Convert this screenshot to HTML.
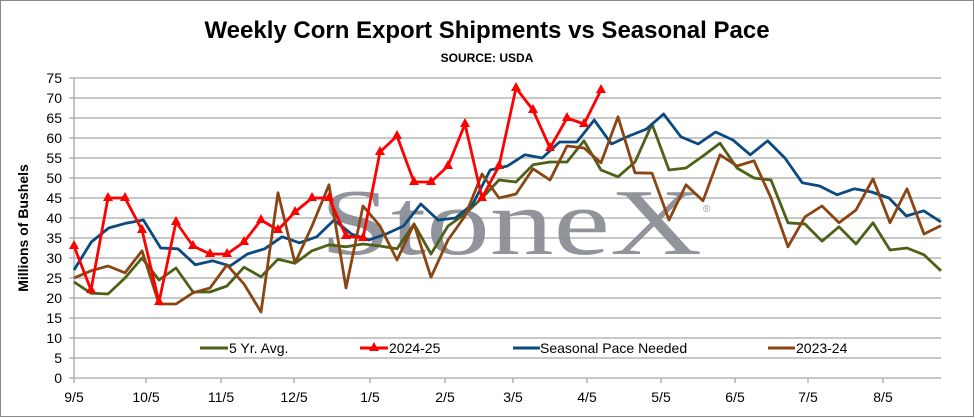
<!DOCTYPE html>
<html><head><meta charset="utf-8"><style>
body{margin:0;background:#fff}
svg{display:block;font-family:"Liberation Sans",sans-serif}
</style></head><body>
<svg width="975" height="418" viewBox="0 0 975 418" xmlns="http://www.w3.org/2000/svg">
<rect x="0.5" y="0.5" width="973" height="416" fill="#fff" stroke="#888"/>
<text x="487" y="38" text-anchor="middle" font-size="24" font-weight="bold">Weekly Corn Export Shipments vs Seasonal Pace</text>
<text x="487" y="62" text-anchor="middle" font-size="12" font-weight="bold">SOURCE: USDA</text>
<g id="grid" stroke="#a6a6a6" stroke-width="1.3"></g>
<text x="320" y="254" font-family="Liberation Serif,serif" font-size="94" fill="#868a91" opacity="0.9" textLength="382" lengthAdjust="spacingAndGlyphs">StoneX</text>
<text x="703" y="212" font-size="10" fill="#999">®</text>
<g id="axis" font-size="14" fill="#000"></g>
<text transform="translate(28,228) rotate(-90)" text-anchor="middle" font-size="14" font-weight="bold">Millions of Bushels</text>
<g id="series" fill="none" stroke-width="2.8" stroke-linejoin="round"></g>
<g font-size="14">
<line x1="200" y1="348" x2="228" y2="348" stroke="#4d6118" stroke-width="3"/><text x="229" y="353">5 Yr. Avg.</text>
<line x1="360" y1="348" x2="388" y2="348" stroke="#ff0000" stroke-width="3"/><polygon points="374,342 379,351 369,351" fill="#ff0000"/><text x="389" y="353">2024-25</text>
<line x1="513" y1="348" x2="540" y2="348" stroke="#0a4a80" stroke-width="3"/><text x="540" y="353">Seasonal Pace Needed</text>
<line x1="768" y1="348" x2="795" y2="348" stroke="#8b4513" stroke-width="3"/><text x="796" y="353">2023-24</text>
</g>
</svg>
<script>
const ns="http://www.w3.org/2000/svg";
const Y=v=>378-4*v, X=i=>74+i*17;
const g=document.getElementById('grid'),a=document.getElementById('axis'),s=document.getElementById('series');
function el(p,t,at){const e=document.createElementNS(ns,t);for(const k in at)e.setAttribute(k,at[k]);p.appendChild(e);return e;}
for(let v=5;v<=75;v+=5){el(g,'line',{x1:74,x2:941,y1:Y(v),y2:Y(v)});}
el(g,'line',{x1:74,x2:941,y1:378,y2:378});
el(g,'line',{x1:74,x2:74,y1:78,y2:378});
for(let v=0;v<=75;v+=5){el(g,'line',{x1:69,x2:74,y1:Y(v),y2:Y(v)});const t=el(a,'text',{x:62,y:Y(v)+5,'text-anchor':'end'});t.textContent=v;}
const lab=['9/5','10/5','11/5','12/5','1/5','2/5','3/5','4/5','5/5','6/5','7/5','8/5'];
const lx=[74,146,221,294,370,445,513,587,661,735,808,883];
lab.forEach((l,i)=>{el(g,'line',{x1:lx[i],x2:lx[i],y1:378,y2:383});const t=el(a,'text',{x:lx[i],y:402,'text-anchor':'middle'});t.textContent=l;});
const green=[24,21.2,21,25,30,24.5,27.5,21.5,21.5,23,27.7,25.3,29.7,28.7,31.8,33.3,32.8,33.5,33,32.3,38.5,31,38,41,45,49.5,49,53.3,54,54,59.3,52,50.3,54,63.5,52,52.5,55.5,58.7,52.5,50,49.5,38.8,38.5,34.2,37.8,33.5,38.8,32,32.5,30.8,26.8];
const blue=[27,34,37.5,38.7,39.5,32.5,32.3,28.3,29.3,28,31,32.3,35.3,33.8,35.3,39.5,36,34.5,36,38,43.5,39.5,40,43.5,52,53,55.8,55,59,59,64.5,58.5,60.5,62.2,66,60.3,58.5,61.5,59.5,55.8,59.3,55,48.8,48,45.8,47.3,46.5,45,40.5,41.8,39];
const brown=[25,26.8,28,26.3,31.8,18.5,18.5,21.3,22.5,28.3,23.5,16.5,46.3,28.7,38,48.3,22.5,43,38,29.5,38.5,25.2,34.5,40.5,51,45,46,52.3,49.5,58,57.5,53.8,65.3,51.3,51.2,39.5,48.3,44.3,55.8,53,54.3,45,32.8,40.3,43,38.8,42,49.8,38.8,47.3,36,38.1];
const red=[33,22,45,45,37,19,39,33,31,31,34,39.5,37,41.5,45,45,35.5,35,56.5,60.5,49,49,53,63.5,45,53,72.5,67,57.5,65,63.5,72];
function line(d,c){const step=867/(d.length-1);el(s,'polyline',{stroke:c,points:d.map((v,i)=>(74+i*step).toFixed(1)+','+Y(v)).join(' ')});}
line(green,'#4d6118');line(blue,'#0a4a80');line(brown,'#8b4513');
el(s,'polyline',{stroke:'#ff0000',points:red.map((v,i)=>X(i)+','+Y(v)).join(' ')});
red.forEach((v,i)=>el(s,'polygon',{fill:'#ff0000',stroke:'none',points:`${X(i)},${Y(v)-6} ${X(i)+5},${Y(v)+3} ${X(i)-5},${Y(v)+3}`}));
</script>
</body></html>
